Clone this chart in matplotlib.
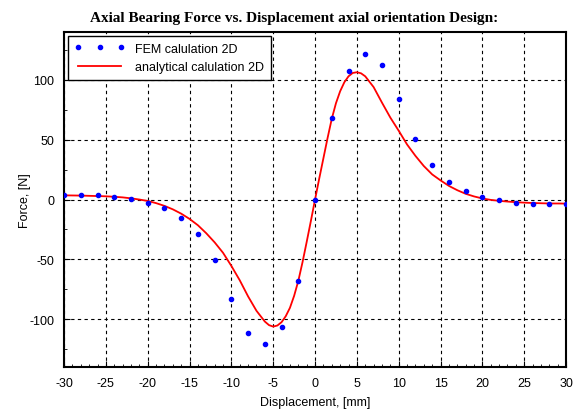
import numpy as np
import matplotlib
matplotlib.use('Agg')
import matplotlib.pyplot as plt
from matplotlib.ticker import MultipleLocator

# FEM points
fem_x = [-30, -28, -26, -24, -22, -20, -18, -16, -14, -12, -10, -8, -6, -4, -2, 0,
         2, 4, 6, 8, 10, 12, 14, 16, 18, 20, 22, 24, 26, 28, 30]
fem_y = [3.9, 3.9, 3.4, 2.2, 0.6, -2.5, -7.3, -15.4, -28.6, -50.6, -83.5, -111.5, -120.5, -106.5, -68, 0,
         68, 107.5, 121.5, 112.5, 84, 50.8, 28.8, 15, 6.8, 2.2, -0.6, -2.5, -3.4, -3.9, -3.6]

# analytical curve
ana_x = [-30, -29, -28, -27, -26, -25, -24, -23, -22, -21, -20, -19, -18, -17, -16, -15,
         -14, -13, -12, -11, -10, -9, -8, -7, -6, -5.5, -5, -4.5, -4, -3.5, -3, -2.5, -2,
         -1.5, -1, -0.5, 0, 0.5, 1, 1.5, 2, 2.5, 3, 3.5, 4, 4.5, 5, 5.5, 6, 7, 8, 9, 10,
         11, 12, 13, 14, 15, 16, 17, 18, 19, 20, 21, 22, 23, 24, 25, 26, 27, 28, 29, 30]
ana_y = [3.5, 3.4, 3.3, 3.1, 2.9, 2.7, 2.3, 1.8, 1.0, 0.0, -1.2, -3.0, -5.3, -8.2, -11.8, -16.2,
         -21.5, -28.2, -35.8, -44.5, -55.5, -67.5, -81, -93, -102, -105, -106.2, -105.3, -102.5, -97.5, -90.5, -80.5, -68,
         -52.5, -35.5, -18, 0, 17.5, 34.5, 51.5, 67.5, 80.5, 90.5, 98, 103, 105.8, 106.4, 105.5, 103, 94, 81, 68.5, 57.5,
         46, 36.5, 28, 21, 16, 11.4, 7.8, 4.8, 2.6, 0.9, -0.3, -1.1, -1.7, -2.2, -2.6, -2.9, -3.1, -3.3, -3.3, -3.4]

plt.rcParams['font.family'] = ['Liberation Sans', 'DejaVu Sans']
plt.rcParams['axes.unicode_minus'] = False

fig = plt.figure(figsize=(5.77, 4.10), dpi=100)
ax = fig.add_axes([0.111, 0.1024, 0.870, 0.817])

ax.plot(fem_x, fem_y, linestyle='none', marker='o', markersize=3, color='#0000ff',
        label='FEM calulation 2D', zorder=3)
ax.plot(ana_x, ana_y, color='#ff0000', linewidth=1.3, label='analytical calulation 2D', zorder=2)

ax.set_xlim(-30, 30)
ax.set_ylim(-140, 140)
ax.xaxis.set_major_locator(MultipleLocator(5))
ax.xaxis.set_minor_locator(MultipleLocator(1))
ax.yaxis.set_major_locator(MultipleLocator(50))
ax.yaxis.set_minor_locator(MultipleLocator(25))
ax.tick_params(which='both', direction='in', labelsize=9, colors='black')
ax.tick_params(which='major', length=4, pad=7)
ax.tick_params(which='minor', length=2)
ax.grid(True, which='major', linestyle=(0, (3, 3)), color='black', linewidth=0.8)
for sp in ax.spines.values():
    sp.set_linewidth(1.5)

ax.set_xlabel('Displacement, [mm]', fontsize=9, labelpad=5)
ax.set_ylabel('Force, [N]', fontsize=9, labelpad=-1)

leg = ax.legend(loc='upper left', numpoints=3, fontsize=9, fancybox=False,
                framealpha=1, edgecolor='black', borderaxespad=0.3,
                handlelength=4, borderpad=0.55)
leg.get_frame().set_linewidth(1.0)

fig.suptitle('Axial Bearing Force vs. Displacement axial orientation Design:',
             fontsize=11, fontweight='bold', family='Liberation Serif', x=0.51, y=0.97)

fig.savefig('out.png', dpi=100)
